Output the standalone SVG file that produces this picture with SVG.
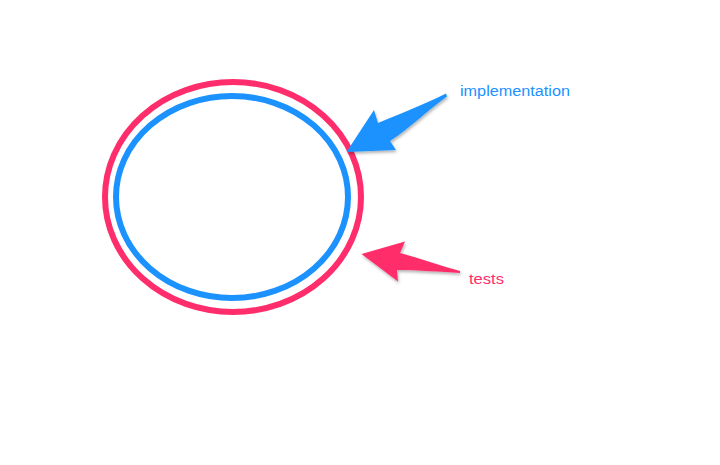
<svg xmlns="http://www.w3.org/2000/svg" width="720" height="465" viewBox="0 0 720 465">
<defs>
<style>
.ring{fill:none;stroke-width:6}
.lbl{font-family:"Liberation Sans","Noto Sans",Arial,sans-serif;font-size:14px}
</style>
<filter id="sh" x="-20%" y="-20%" width="140%" height="150%">
<feDropShadow dx="1" dy="2" stdDeviation="1.5" flood-color="#000" flood-opacity="0.3"/>
</filter>
</defs>
<rect width="720" height="465" fill="#fff"/>
<g id="tests-ring"><ellipse class="ring" cx="233" cy="197" rx="128" ry="115" stroke="#FF2D6B"/></g>
<g id="implementation-ring"><ellipse class="ring" cx="232" cy="197" rx="116" ry="101" stroke="#1C92FF"/></g>
<g id="connectors">
<path filter="url(#sh)" fill="#1C92FF" d="M446,93.5 C425,104 400,114 378,123 L374,110 L346.5,152 L396,150 L390,141 C410,128 428,110 447,96.5 Z"/>
<path filter="url(#sh)" fill="#FF2D6B" d="M460,271 C440,266 420,258 400,253 L405,241.5 L361.5,254 L398,281.5 L397,270 C420,270 440,272 460,273 Z"/>
</g>
<g id="implementation-label"><text class="lbl" x="460" y="96" fill="#1C92FF" textLength="110" lengthAdjust="spacingAndGlyphs">implementation</text></g>
<g id="tests-label"><text class="lbl" x="469" y="284" fill="#FF2D6B" textLength="35" lengthAdjust="spacingAndGlyphs">tests</text></g>
</svg>
